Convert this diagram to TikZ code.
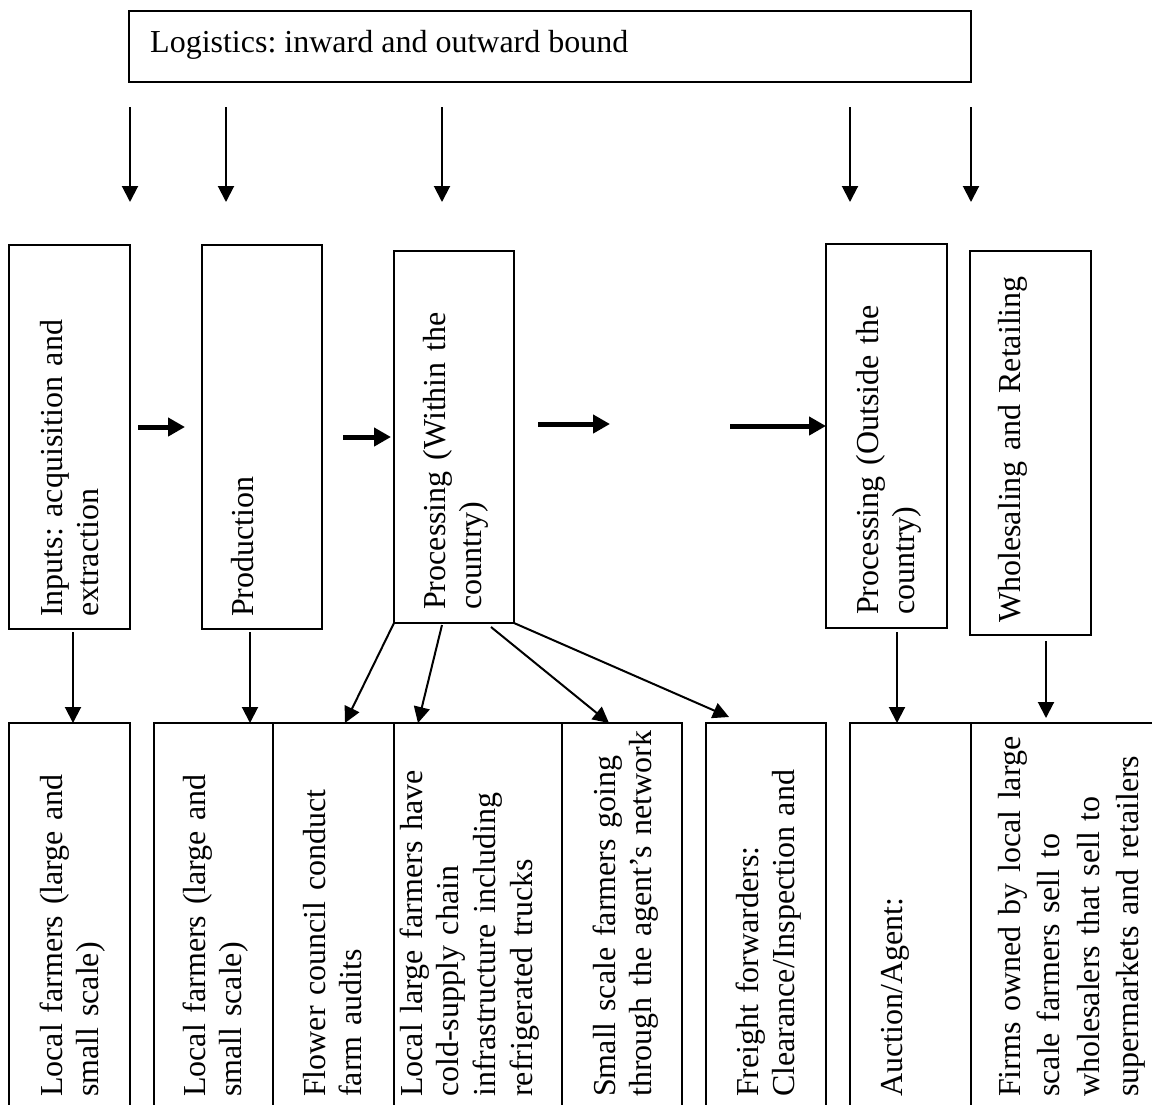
\documentclass[tikz,border=0pt]{standalone}
\usepackage{fontspec}
\setmainfont{Liberation Serif}
\usetikzlibrary{positioning}
\usetikzlibrary{arrows.meta}
\frenchspacing

\begin{document}
\begin{tikzpicture}[x=1pt,y=-1pt,
		box/.style={draw,rectangle,line width=1.8pt,outer sep=0pt,inner sep=0pt,anchor=north west},
		vtext/.style={rotate=90,anchor=base west,inner sep=0pt,text width=420pt,align=left,font=\fontsize{32}{36.8}\selectfont},
		dnarrow/.style={line width=2pt,-{Triangle[length=16pt,width=16pt]}},
		fatarrow/.style={line width=5pt,-{Triangle[length=17pt,width=18pt]}}]
		\useasboundingbox (0,0) rectangle (1152,1104);
		\clip (0,0) rectangle (1152,1104);

		% logistics on top
		\node[box,minimum width=842pt,minimum height=71pt] (logistics) at (129,11) {};
		\node[anchor=base west,inner sep=0pt,font=\fontsize{32}{36.8}\selectfont] (logistics-t) at ([xshift=21pt,yshift=-41pt]logistics.north west)
		{Logistics: inward and outward bound};
		\foreach \x [count=\i] in {130,226,442,850,971} {
			\coordinate (from\i) at (\x,107);
			\coordinate (to\i) at (\x,202);
			\draw[dnarrow] (from\i) -- (to\i);
		}

		% stages
		\node[box,minimum width=121pt,minimum height=384pt] (inputs) at (9,245) {};
		\node[box,minimum width=120pt,minimum height=384pt] (production) at (202,245) {};
		\node[box,minimum width=120pt,minimum height=372pt] (within) at (394,251) {};
		\node[box,minimum width=121pt,minimum height=384pt] (outside) at (826,244) {};
		\node[box,minimum width=121pt,minimum height=384pt] (wholesale) at (970,251) {};

		\node[vtext] (inputs-t) at ([xshift=53pt,yshift=12pt]inputs.south west)
		{Inputs: acquisition and\\extraction};
		\node[vtext] (production-t) at ([xshift=51pt,yshift=12pt]production.south west)
		{Production};
		\node[vtext] (within-t) at ([xshift=51pt,yshift=13pt]within.south west)
		{Processing (Within the\\country)};
		\node[vtext] (outside-t) at ([xshift=52pt,yshift=13pt]outside.south west)
		{Processing (Outside the\\country)};
		\node[vtext] (wholesale-t) at ([xshift=50pt,yshift=12pt]wholesale.south west)
		{Wholesaling and Retailing};

		\coordinate (h1a) at (138,427);
		\coordinate (h1b) at (185,427);
		\coordinate (h2a) at (343,437);
		\coordinate (h2b) at (391,437);
		\coordinate (h3a) at (538,424);
		\coordinate (h3b) at (610,424);
		\coordinate (h4a) at (730,426);
		\draw[fatarrow] (h1a) -- (h1b);
		\draw[fatarrow] (h2a) -- (h2b);
		\draw[fatarrow] (h3a) -- (h3b);
		\draw[fatarrow] (h4a) -- (outside.west |- h4a);

		% actors
		\node[box,minimum width=121pt,minimum height=400pt] (farmers1) at (9,723) {};
		\node[box,minimum width=119pt,minimum height=400pt] (farmers2) at (154,723) {};
		\node[box,minimum width=121pt,minimum height=400pt,right=0pt of farmers2] (council) {};
		\node[box,minimum width=168pt,minimum height=400pt,right=0pt of council] (coldchain) {};
		\node[box,minimum width=120pt,minimum height=400pt,right=0pt of coldchain] (smallscale) {};
		\node[box,minimum width=120pt,minimum height=400pt] (freight) at (706,723) {};
		\node[box,minimum width=121pt,minimum height=400pt] (auction) at (850,723) {};
		\node[box,minimum width=200pt,minimum height=400pt,right=0pt of auction] (firms) {};

		\node[vtext] (farmers1-t) at ([xshift=53pt,yshift=-374pt]farmers1.north west)
		{Local farmers (large and\\small scale)};
		\node[vtext] (farmers2-t) at ([xshift=51pt,yshift=-374pt]farmers2.north west)
		{Local farmers (large and\\small scale)};
		\node[vtext] (council-t) at ([xshift=52pt,yshift=-374pt]council.north west)
		{Flower council conduct\\farm audits};
		\node[vtext] (coldchain-t) at ([xshift=28pt,yshift=-374pt]coldchain.north west)
		{Local large farmers have\\cold-supply chain\\infrastructure including\\refrigerated trucks};
		\node[vtext] (smallscale-t) at ([xshift=53pt,yshift=-374pt]smallscale.north west)
		{Small scale farmers going\\through the agent’s network};
		\node[vtext] (freight-t) at ([xshift=52pt,yshift=-374pt]freight.north west)
		{Freight forwarders:\\Clearance/Inspection and};
		\node[vtext] (auction-t) at ([xshift=52pt,yshift=-374pt]auction.north west)
		{Auction/Agent:};
		\node[vtext,font=\fontsize{32}{39.5}\selectfont] (firms-t) at ([xshift=49pt,yshift=-374pt]firms.north west)
		{Firms owned by local large\\scale farmers sell to\\wholesalers that sell to\\supermarkets and retailers};

		% links down
		\coordinate (d1) at ([xshift=64pt,yshift=-3pt]inputs.south west);
		\coordinate (d2) at ([xshift=48pt,yshift=-3pt]production.south west);
		\coordinate (d3) at ([xshift=71pt,yshift=-4pt]outside.south west);
		\coordinate (d4) at ([xshift=76pt,yshift=-6pt]wholesale.south west);
		\draw[dnarrow] (d1) -- (d1 |- farmers1.north);
		\draw[dnarrow] (d2) -- (d2 |- farmers2.north);
		\draw[dnarrow] (d3) -- (d3 |- auction.north);
		\draw[dnarrow] (d4) -- ([yshift=5pt]d4 |- firms.north);

		\draw[dnarrow] (within.south west) -- ([xshift=72pt]council.north west);
		\draw[dnarrow] ([xshift=48pt,yshift=-2pt]within.south west) -- ([xshift=24pt]coldchain.north west);
		\draw[dnarrow] ([xshift=97pt,yshift=-4pt]within.south west) -- ([xshift=47pt]smallscale.north west);
		\draw[dnarrow] (within.south east) -- ([xshift=23pt,yshift=6pt]freight.north west);
	\end{tikzpicture}
\end{document}
